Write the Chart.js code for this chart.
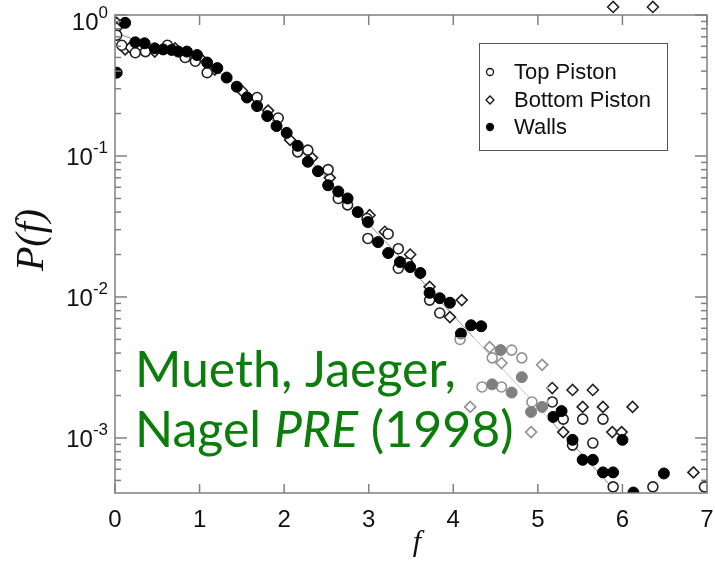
<!DOCTYPE html>
<html>
<head>
<meta charset="utf-8">
<script src="https://cdn.jsdelivr.net/npm/chart.js@4/dist/chart.umd.min.js"></script>
<style>
  html, body { margin: 0; padding: 0; background: #fff; }
  canvas { display: block; }
</style>
</head>
<body>
<canvas id="chart" width="715" height="563"></canvas>
<script>
// Force distribution P(f)
const wallsF = [0.02, 0.12, 0.24, 0.35, 0.47, 0.57, 0.67, 0.75, 0.85, 0.97, 1.09, 1.21, 1.32, 1.44, 1.56, 1.68, 1.80, 1.91, 2.03, 2.16, 2.28, 2.40, 2.52, 2.64, 2.75, 2.87, 2.99, 3.11, 3.23, 3.37, 3.49, 3.61, 3.72, 3.84, 3.96, 4.09, 4.21, 4.33, 4.56, 4.81, 4.46, 4.69, 4.92, 5.05, 5.18, 5.28, 5.41, 5.53, 5.65, 5.77, 5.89, 6.00, 6.13, 6.49];
const wallsP = [0.39, 0.88, 0.64, 0.63, 0.58, 0.57, 0.565, 0.55, 0.55, 0.52, 0.46, 0.42, 0.36, 0.31, 0.26, 0.226, 0.192, 0.163, 0.146, 0.118, 0.091, 0.078, 0.062, 0.056, 0.050, 0.040, 0.034, 0.0245, 0.0205, 0.0177, 0.0163, 0.0148, 0.0107, 0.0098, 0.0091, 0.0055, 0.0063, 0.0062, 0.0042, 0.0027, 0.0024, 0.0021, 0.00153, 0.00166, 0.00141, 0.00155, 0.00097, 0.00070, 0.00070, 0.00057, 0.00057, 0.00097, 0.00041, 0.00056];

const topF = [0.02, 0.08, 0.24, 0.36, 0.62, 0.83, 0.95, 1.09, 1.68, 1.93, 2.16, 2.28, 2.52, 2.64, 2.75, 2.98, 2.99, 3.23, 3.35, 3.35, 3.46, 3.72, 3.84, 4.08, 4.46, 4.69, 4.81, 4.34, 4.57, 4.93, 5.17, 5.30, 5.53, 5.77, 5.65, 5.41, 5.89, 6.36, 6.97];
const topP = [0.72, 0.61, 0.54, 0.55, 0.61, 0.50, 0.47, 0.39, 0.26, 0.186, 0.107, 0.110, 0.080, 0.050, 0.045, 0.036, 0.026, 0.028, 0.022, 0.016, 0.0174, 0.0095, 0.0077, 0.0050, 0.0037, 0.0042, 0.0037, 0.0023, 0.0023, 0.0018, 0.0018, 0.00136, 0.00136, 0.00136, 0.00092, 0.00089, 0.00045, 0.00045, 0.00045];

const bottomF = [0.02, 0.02, 0.12, 0.18, 0.47, 0.71, 1.00, 1.18, 1.50, 1.81, 2.07, 2.33, 2.54, 3.01, 3.19, 3.49, 3.72, 4.10, 3.96, 4.43, 4.57, 5.05, 4.20, 4.92, 5.17, 5.41, 5.65, 5.53, 5.77, 6.12, 5.88, 5.99, 5.30, 6.84, 5.89, 6.36];
const bottomP = [0.88, 0.81, 0.57, 0.59, 0.55, 0.58, 0.50, 0.41, 0.29, 0.21, 0.13, 0.097, 0.070, 0.038, 0.029, 0.020, 0.0118, 0.0095, 0.0072, 0.0044, 0.0034, 0.0033, 0.00166, 0.00110, 0.00226, 0.00219, 0.00219, 0.00166, 0.00166, 0.00166, 0.00110, 0.00110, 0.00110, 0.00057, 1.14, 1.14];

// thin grey fit curve
const fitF = [0, 0.5, 1, 1.5, 2, 2.5, 3, 3.5, 4, 4.5, 5, 5.5, 6];
const fitP = [0.75, 0.59, 0.485, 0.29, 0.147, 0.070, 0.033, 0.0158, 0.0074, 0.0035, 0.00166, 0.00079, 0.00037];

const seriesNames = ["Top Piston", "Bottom Piston", "Walls"];
const xTickLabels = ["0", "1", "2", "3", "4", "5", "6", "7"];
const yTickValues = [1, 0.1, 0.01, 0.001];
const yTickExponents = ["0", "-1", "-2", "-3"];

const toPoints = (xs, ys) => xs.map((x, i) => ({ x: x, y: ys[i] }));

function line(ctx, x1, y1, x2, y2) {
    ctx.beginPath();
    ctx.moveTo(x1, y1);
    ctx.lineTo(x2, y2);
    ctx.stroke();
}

function marker(ctx, kind, x, y, r) {
    ctx.beginPath();
    if (kind === "diamond") {
        ctx.moveTo(x, y - r);
        ctx.lineTo(x + r, y);
        ctx.lineTo(x, y + r);
        ctx.lineTo(x - r, y);
        ctx.closePath();
    } else {
        ctx.arc(x, y, r, 0, Math.PI * 2);
    }
    ctx.fillStyle = kind === "filled" ? "#000" : "#fff";
    ctx.fill();
    ctx.lineWidth = 1.3;
    ctx.strokeStyle = "#111";
    ctx.stroke();
}

// axes box, inward ticks, labels, legend and the citation
const decorations = {
    id: "decorations",
    afterDatasetsDraw(chart) {
        const ctx = chart.ctx;
        const a = chart.chartArea;
        const xs = chart.scales.x;
        const ys = chart.scales.y;
        const top = ys.getPixelForValue(1);
        ctx.save();

        // faded patch behind the citation text
        ctx.fillStyle = "rgba(255,255,255,0.5)";
        ctx.fillRect(128, 337, 420, 128);

        // frame
        ctx.strokeStyle = "#808080";
        ctx.lineWidth = 1.5;
        ctx.strokeRect(a.left, top, a.right - a.left, a.bottom - top);

        // x ticks + labels
        ctx.fillStyle = "#111";
        ctx.font = "24px 'Liberation Sans', Arial, sans-serif";
        ctx.textAlign = "center";
        ctx.textBaseline = "alphabetic";
        xTickLabels.forEach((lab, i) => {
            const px = xs.getPixelForValue(i);
            line(ctx, px, a.bottom, px, a.bottom - 9);
            line(ctx, px, top, px, top + 10);
            ctx.fillText(lab, px, 527);
        });

        // y ticks (log, major + minor)
        for (let e = -4; e <= 0; e++) {
            for (let m = 1; m <= 9; m++) {
                const v = m * Math.pow(10, e);
                if (v < ys.min || v > 1.0001) continue;
                const py = ys.getPixelForValue(v);
                const len = m === 1 ? 12 : 6;
                line(ctx, a.left, py, a.left + len, py);
                line(ctx, a.right, py, a.right - len, py);
            }
        }

        // y labels 10^n
        yTickValues.forEach((v, i) => {
            const py = ys.getPixelForValue(v);
            const base = Math.max(py + 9, 30);
            ctx.font = "24px 'Liberation Sans', Arial, sans-serif";
            const wTen = ctx.measureText("10").width;
            ctx.font = "17px 'Liberation Sans', Arial, sans-serif";
            const wExp = ctx.measureText(yTickExponents[i]).width;
            const start = 108 - wTen - wExp;
            ctx.textAlign = "left";
            ctx.font = "24px 'Liberation Sans', Arial, sans-serif";
            ctx.fillText("10", start, base);
            ctx.font = "17px 'Liberation Sans', Arial, sans-serif";
            ctx.fillText(yTickExponents[i], start + wTen, base - 12);
        });

        // axis titles
        ctx.font = "italic 30px 'Liberation Serif', 'Times New Roman', serif";
        ctx.textAlign = "center";
        ctx.fillText("f", 417, 551);
        ctx.save();
        ctx.translate(43, 240);
        ctx.rotate(-Math.PI / 2);
        ctx.font = "italic 40px 'Liberation Serif', 'Times New Roman', serif";
        ctx.fillText("P(f)", 0, 0);
        ctx.restore();

        // legend
        ctx.strokeStyle = "#555";
        ctx.lineWidth = 1;
        ctx.strokeRect(479.5, 43.5, 188, 107);
        const kinds = ["open", "diamond", "filled"];
        const rowsY = [72, 100, 127];
        ctx.font = "22px 'Liberation Sans', Arial, sans-serif";
        ctx.textAlign = "left";
        ctx.textBaseline = "middle";
        seriesNames.forEach((name, i) => {
            marker(ctx, kinds[i], 490, rowsY[i], kinds[i] === "diamond" ? 4 : 3.5);
            ctx.fillStyle = "#111";
            ctx.fillText(name, 514, rowsY[i] + 1);
        });

        // citation
        ctx.fillStyle = "#0b7d0b";
        ctx.textBaseline = "alphabetic";
        ctx.font = "50px Lato, 'Open Sans', sans-serif";
        ctx.fillText("Mueth, Jaeger,", 135, 387);
        ctx.fillText("Nagel ", 135, 447);
        let x = 135 + ctx.measureText("Nagel ").width;
        ctx.font = "italic 50px Lato, 'Open Sans', sans-serif";
        ctx.fillText("PRE", x, 447);
        x += ctx.measureText("PRE").width;
        ctx.font = "50px Lato, 'Open Sans', sans-serif";
        ctx.fillText(" (1998)", x, 447);

        ctx.restore();
    }
};

const ctx = document.getElementById("chart").getContext("2d");

new Chart(ctx, {
    type: "scatter",
    data: {
        datasets: [
            {
                label: "Walls",
                data: toPoints(wallsF, wallsP),
                pointStyle: "circle",
                pointRadius: 5.5,
                backgroundColor: "#000",
                borderColor: "#000",
                borderWidth: 1
            },
            {
                label: "Top Piston",
                data: toPoints(topF, topP),
                pointStyle: "circle",
                pointRadius: 5,
                backgroundColor: "#fff",
                borderColor: "#222",
                borderWidth: 1.6
            },
            {
                label: "Bottom Piston",
                data: toPoints(bottomF, bottomP),
                pointStyle: "rectRot",
                pointRadius: 5.5,
                backgroundColor: "#fff",
                borderColor: "#222",
                borderWidth: 1.6
            },
            {
                type: "line",
                label: "fit",
                data: toPoints(fitF, fitP),
                borderColor: "#8a8a8a",
                borderWidth: 1,
                pointRadius: 0,
                fill: false,
                tension: 0.3
            }
        ]
    },
    options: {
        responsive: false,
        animation: false,
        devicePixelRatio: 1,
        layout: { autoPadding: false, padding: { left: 115, top: 0, right: 8, bottom: 70 } },
        plugins: {
            legend: { display: false },
            tooltip: { enabled: false }
        },
        scales: {
            x: { type: "linear", min: 0, max: 7, display: false },
            y: { type: "logarithmic", min: 4.07e-4, max: 1.2777, display: false }
        }
    },
    plugins: [decorations]
});
</script>
</body>
</html>
